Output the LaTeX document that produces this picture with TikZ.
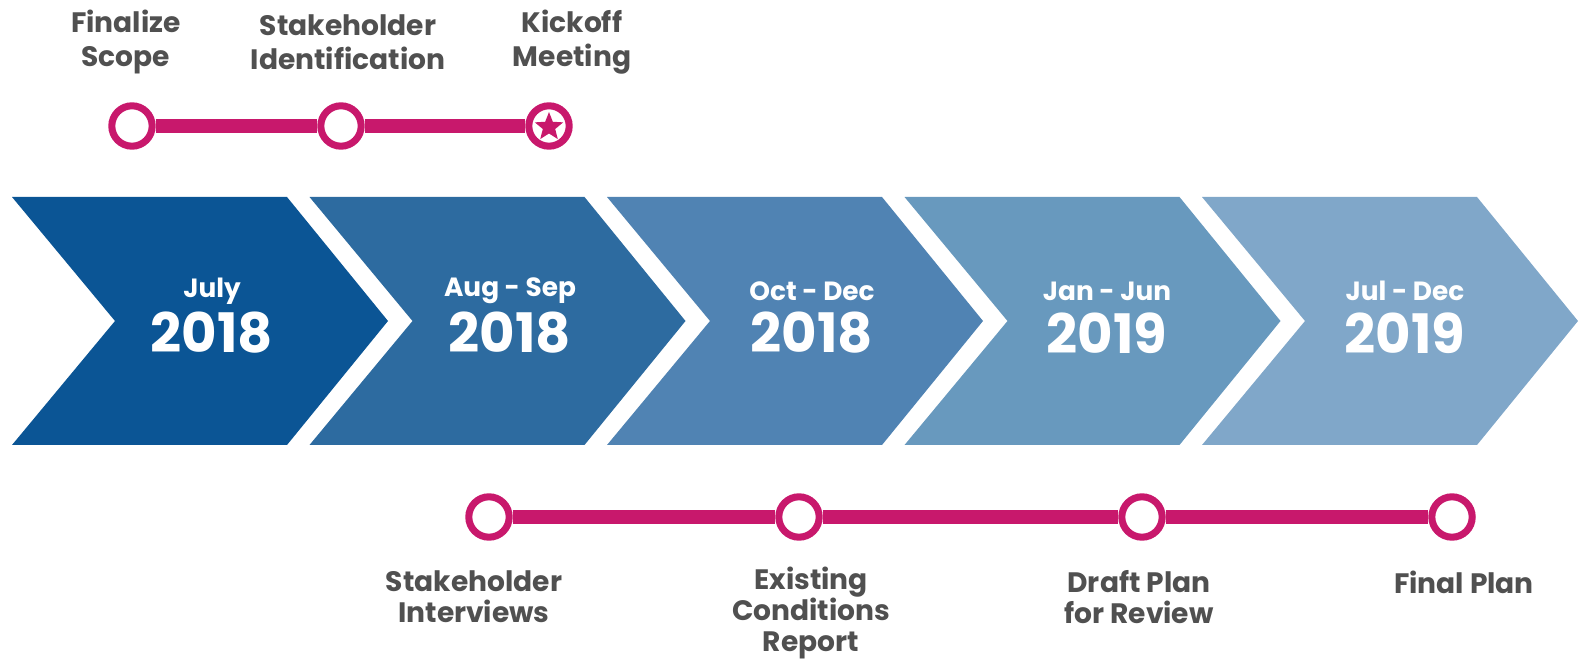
\documentclass[tikz,border=0pt]{standalone}
\usepackage{fontspec}
\setmainfont{Poppins}
\usetikzlibrary{shapes.geometric}
\definecolor{pink}{HTML}{C8186C}
\definecolor{labelgray}{HTML}{505050}
\definecolor{blueA}{HTML}{0B5595}
\definecolor{blueB}{HTML}{2D6BA0}
\definecolor{blueC}{HTML}{5083B3}
\definecolor{blueD}{HTML}{6899BE}
\definecolor{blueE}{HTML}{80A7C9}
\newcommand{\dotsize}{23pt}
\tikzset{
  milestone/.style={draw=pink, line width=4pt, circle, fill=white, minimum size=\dotsize, inner sep=0pt},
  track/.style={pink, line width=8pt},
  tasklabel/.style={text=labelgray, font=\bfseries\fontsize{16}{19.5}\selectfont, align=center, inner sep=0pt},
  lowlabel/.style={tasklabel, font=\bfseries\fontsize{16}{17.8}\selectfont},
  monthtxt/.style={text=white, font=\bfseries\fontsize{15}{16}\selectfont, inner sep=0pt},
  yeartxt/.style={text=white, font=\bfseries\fontsize{31}{33}\selectfont, inner sep=0pt},
}

\begin{document}
\begin{tikzpicture}[x=0.02cm, y=-0.02cm]
  \useasboundingbox (0,0) rectangle (1581,661);

          % chevrons
        \foreach \i/\col in {0/blueA,1/blueB,2/blueC,3/blueD,4/blueE}{
          \pgfmathsetmacro{\lx}{12+297.5*\i}
          \fill[\col] (\lx,197) -- (\lx+275,197) -- (\lx+376,321) -- (\lx+275,445)
            -- (\lx,445) -- (\lx+103,321) -- cycle;
        }

          % dates
        \node (m1) at (212,291) [monthtxt] {July};
        \node (y1) at (212,333) [yeartxt] {2018};
        \node (m2) at (510,291) [monthtxt] {Aug - Sep};
        \node (y2) at (510,333) [yeartxt] {2018};
        \node (m3) at (812,291) [monthtxt] {Oct - Dec};
        \node (y3) at (812,333) [yeartxt] {2018};
        \node (m4) at (1107,291) [monthtxt] {Jan - Jun};
        \node (y4) at (1107,333) [yeartxt] {2019};
        \node (m5) at (1405,291) [monthtxt] {Jul - Dec};
        \node (y5) at (1405,333) [yeartxt] {2019};

          % top track
        \node (scope) at (132,126) [milestone] {};
        \node (ident) at (341,126) [milestone] {};
        \node (kick) at (549,126) [milestone] {};
        \node (kickstar) at (549,127) [star, star points=5, star point ratio=2.3, fill=pink, minimum size=17pt, inner sep=0pt] {};
        \draw[track] (scope) to (ident) (ident) to (kick);

        \node (lscope) at (126,42) [tasklabel] {Finalize\\Scope};
        \node (lident) at (348,42) [tasklabel] {Stakeholder\\Identification};
        \node (lkick) at (572,42) [tasklabel] {Kickoff\\Meeting};

          % bottom track
        \node (intv) at (489,517) [milestone] {};
        \node (cond) at (799,517) [milestone] {};
        \node (draft) at (1142,517) [milestone] {};
        \node (final) at (1452,517) [milestone] {};
        \draw[track] (intv) to (cond) (cond) to (draft) (draft) to (final);

        \node (lintv) at (474,597) [lowlabel] {Stakeholder\\Interviews};
        \node (lcond) at (811,613) [lowlabel] {Existing\\Conditions\\Report};
        \node (ldraft) at (1139,597) [lowlabel] {Draft Plan\\for Review};
        \node (lfinal) at (1464,582) [lowlabel] {Final Plan};

\end{tikzpicture}
\end{document}
